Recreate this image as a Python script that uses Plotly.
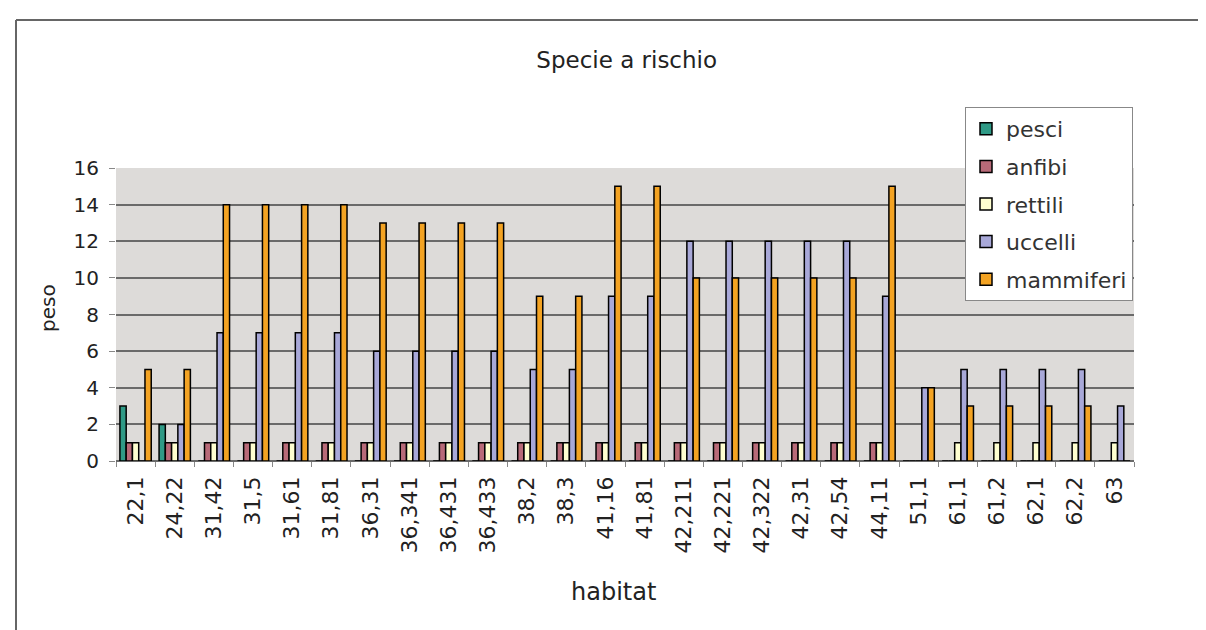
import plotly.graph_objs as go

# habitat codes (x categories)
habitat = ["22,1", "24,22", "31,42", "31,5", "31,61", "31,81", "36,31", "36,341",
           "36,431", "36,433", "38,2", "38,3", "41,16", "41,81", "42,211", "42,221",
           "42,322", "42,31", "42,54", "44,11", "51,1", "61,1", "61,2", "62,1",
           "62,2", "63"]

pesci     = [3, 2, 0, 0, 0, 0, 0, 0, 0, 0, 0, 0, 0, 0, 0, 0, 0, 0, 0, 0, 0, 0, 0, 0, 0, 0]
anfibi    = [1, 1, 1, 1, 1, 1, 1, 1, 1, 1, 1, 1, 1, 1, 1, 1, 1, 1, 1, 1, 0, 0, 0, 0, 0, 0]
rettili   = [1, 1, 1, 1, 1, 1, 1, 1, 1, 1, 1, 1, 1, 1, 1, 1, 1, 1, 1, 1, 0, 1, 1, 1, 1, 1]
uccelli   = [0, 2, 7, 7, 7, 7, 6, 6, 6, 6, 5, 5, 9, 9, 12, 12, 12, 12, 12, 9, 4, 5, 5, 5, 5, 3]
mammiferi = [5, 5, 14, 14, 14, 14, 13, 13, 13, 13, 9, 9, 15, 15, 10, 10, 10, 10, 10, 15, 4, 3, 3, 3, 3, 0]

series = [("pesci", pesci, "#2f9a86"),
          ("anfibi", anfibi, "#b86a78"),
          ("rettili", rettili, "#ffffd0"),
          ("uccelli", uccelli, "#a8a8d8"),
          ("mammiferi", mammiferi, "#f3a323")]

data = []
for name, vals, col in series:
    data.append(go.Bar(x=habitat, y=vals, name=name, legendgroup=name,
                       marker=dict(color=col, line=dict(color="black", width=1.5))))

# plot area in pixels: left 108, right 1126, top 160, bottom 453
L, R, T, B = 108, 1126, 160, 453
W, H = R - L, B - T

def px(x):
    return (x - L) / W

def py_(y):
    return (B - y) / H

layout = go.Layout(
    width=1206, height=630,
    margin=dict(l=L, r=1206 - R, t=T, b=630 - B),
    paper_bgcolor="white",
    plot_bgcolor="#dddbd9",
    font=dict(family="DejaVu Sans", color="#222"),
    barmode="group",
    bargap=0.2,
    bargroupgap=0,
    title=dict(text="Specie a rischio", x=0.513, xanchor="center",
               y=1 - 52 / 630, yanchor="middle",
               font=dict(size=23, color="#222")),
    xaxis=dict(type="category", tickangle=-90, tickson="boundaries",
               ticks="outside", ticklen=5, tickcolor="#888",
               ticklabelstandoff=10,
               tickfont=dict(size=22, color="#222"),
               showgrid=False, showline=False, zeroline=False),
    yaxis=dict(range=[0, 16], dtick=2, ticks="outside", ticklen=6,
               tickcolor="#888", ticklabelstandoff=6,
               tickfont=dict(size=20, color="#222"),
               showgrid=True, gridcolor="#6a6a6a", gridwidth=1.5,
               zeroline=True, zerolinecolor="#6a6a6a", zerolinewidth=1.5,
               showline=False),
    legend=dict(x=px(957), y=py_(99), xanchor="left", yanchor="top",
                bgcolor="white", bordercolor="#888", borderwidth=1,
                font=dict(size=22, color="#333"),
                traceorder="grouped", tracegroupgap=6),
    annotations=[
        dict(text="habitat", x=px(605), y=py_(600), xref="paper", yref="paper",
             showarrow=False, font=dict(size=24, color="#222")),
        dict(text="peso", x=px(26), y=py_(300), xref="paper", yref="paper",
             showarrow=False, textangle=-90, font=dict(size=20, color="#222")),
    ],
    shapes=[
        dict(type="line", xref="paper", yref="paper",
             x0=px(8), x1=px(8), y0=py_(640), y1=py_(12),
             line=dict(color="#666", width=2)),
        dict(type="line", xref="paper", yref="paper",
             x0=px(8), x1=px(1216), y0=py_(12), y1=py_(12),
             line=dict(color="#666", width=2)),
    ],
)

fig = go.Figure(data=data, layout=layout)
fig.write_html("out.html")
